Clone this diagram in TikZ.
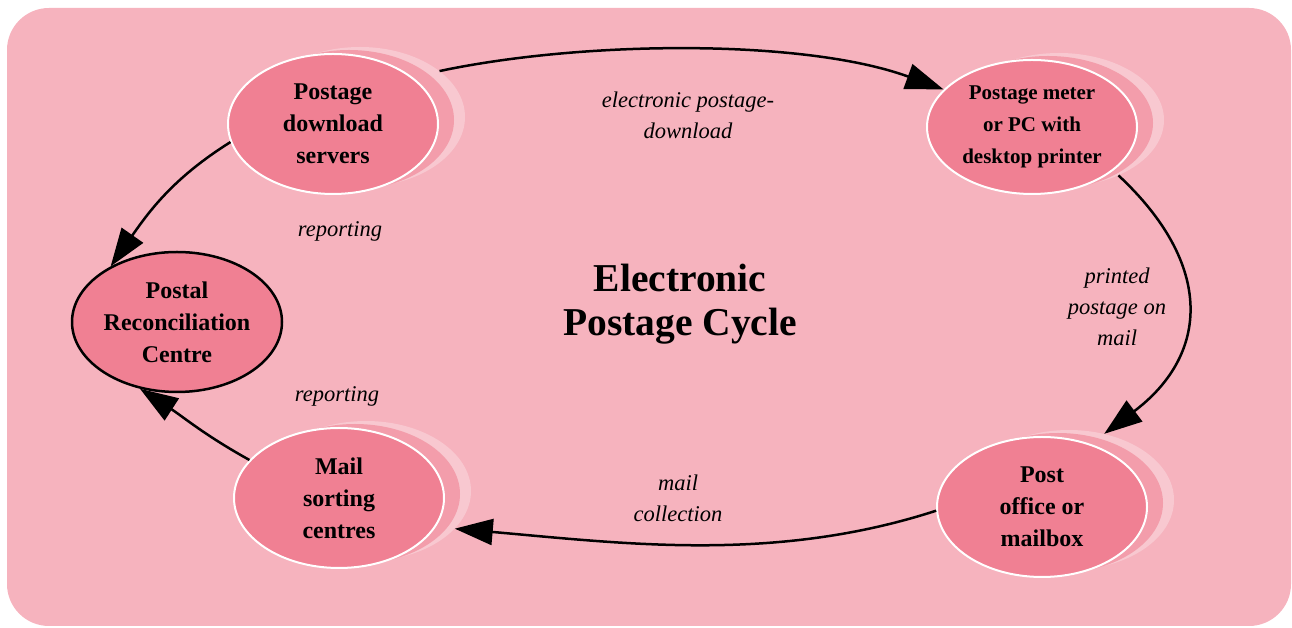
\documentclass[tikz,border=0pt]{standalone}
\usepackage{fontspec}
\setmainfont{Liberation Serif}
\usetikzlibrary{arrows.meta,shapes.geometric}

\definecolor{panelpink}{HTML}{F6B3BE}
\definecolor{bubblepink}{HTML}{F08093}
\definecolor{midpink}{HTML}{F39DAB}
\definecolor{palepink}{HTML}{F8C8D0}

\begin{document}
\begin{tikzpicture}[x=1pt,y=1pt,
  bubble/.style={ellipse, fill=bubblepink, draw=white, line width=2pt,
    minimum width=210pt, minimum height=140pt, inner sep=0pt, align=center,
    font=\fontsize{24}{32}\selectfont\bfseries},
  centrebubble/.style={bubble, draw=black, line width=2.5pt},
  backmid/.style={ellipse, fill=midpink, minimum width=210pt,
    minimum height=140pt, inner sep=0pt},
  backpale/.style={backmid, fill=palepink},
  flow/.style={line width=2.5pt, -{Triangle[length=38pt,width=26pt]}},
  lbl/.style={font=\fontsize{22.5}{31}\selectfont\itshape, align=center},
  heading/.style={font=\fontsize{39.5}{44}\selectfont\bfseries, align=center}
]
\useasboundingbox (0,0) rectangle (1292,628);
\fill[panelpink, rounded corners=42pt] (7,2) rectangle (1291,620);

% stacked ellipses behind the four outer stations
\node[backpale] (dlB) at (360,511) {};
\node[backmid]  (dlA) at (349,508) {};
\node[bubble]   (dl)  at (333,504) {Postage\\download\\servers};

\node[backpale, minimum height=134pt] (pmB) at (1059,508) {};
\node[backmid,  minimum height=134pt] (pmA) at (1048,505) {};
\node[bubble,   minimum height=134pt, font=\fontsize{21}{32}\selectfont\bfseries]
  (pm) at (1032,501) {Postage meter\\or PC with\\desktop printer};

\node[backpale] (poB) at (1069,128) {};
\node[backmid]  (poA) at (1058,125) {};
\node[bubble]   (po)  at (1042,121) {Post\\office or\\mailbox};

\node[backpale] (msB) at (366,137) {};
\node[backmid]  (msA) at (355,134) {};
\node[bubble]   (ms)  at (339,130) {Mail\\sorting\\centres};

\node[centrebubble] (rec) at (177,306) {Postal\\Reconciliation\\Centre};

% title in the middle of the cycle
\node[heading] (title) at (680,324) {Electronic\\Postage Cycle};

% flow labels
\node[lbl] (lDownload) at (688,513) {electronic postage-\\download};
\node[lbl] (lPrinted)  at (1117,321) {printed\\postage on\\mail};
\node[lbl] (lCollect)  at (678,130) {mail\\collection};
\node[lbl] (lRepTop)   at (340,397) {reporting};
\node[lbl] (lRepLow)   at (337,232) {reporting};

% the cycle
\draw[flow] (dlB.30) to[out=12, in=160, looseness=0.75] (pm.157);
\draw[flow] (pmB.-43) to[out=-43, in=37, looseness=1.3] (poB.62);
\draw[flow] (po.182) to[out=198, in=-5, looseness=0.9] (msB.-23);
\draw[flow] (ms.157) to[out=151, in=-33] (rec.-119);
\draw[flow] (dl.190) to[out=212, in=55] (rec.140);
\end{tikzpicture}
\end{document}
